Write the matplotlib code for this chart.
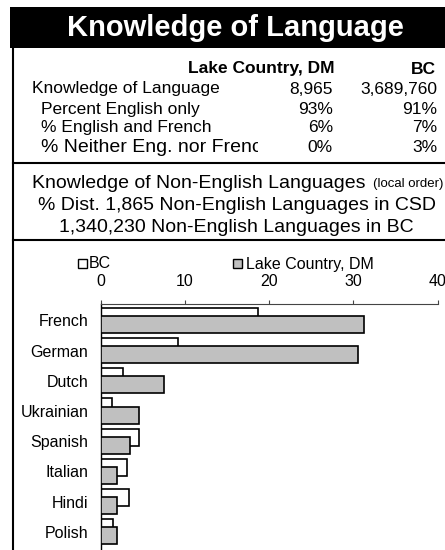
import numpy as np
import matplotlib
matplotlib.use("Agg")
import matplotlib.pyplot as plt
from matplotlib.patches import Rectangle
from matplotlib.lines import Line2D

plt.rcParams["font.family"] = ["Liberation Sans", "DejaVu Sans"]

# ---- data ----
title = "Knowledge of Language"
col_names = ["Lake Country, DM", "BC"]
row_labels = ["Knowledge of Language", "Percent English only",
              "% English and French", "% Neither Eng. nor French"]
lake_vals = ["8,965", "93%", "6%", "0%"]
bc_vals = ["3,689,760", "91%", "7%", "3%"]

languages = ["French", "German", "Dutch", "Ukrainian", "Spanish",
             "Italian", "Hindi", "Polish"]
bc_pct = [18.7, 9.2, 2.6, 1.3, 4.6, 3.1, 3.4, 1.5]
lake_pct = [31.3, 30.5, 7.5, 4.5, 3.5, 1.9, 1.9, 1.9]

W, H = 445, 550
fig = plt.figure(figsize=(W / 100, H / 100), dpi=100)


def fx(px):
    return px / W


def fy(py):
    return 1 - py / H


# ---- title band ----
fig.patches.append(Rectangle((fx(10), fy(48)), fx(W + 10) - fx(10), fy(7) - fy(48),
                             transform=fig.transFigure, facecolor="black",
                             edgecolor="none", zorder=1))
fig.text(fx(235), fy(28), title, color="white", fontsize=21, fontweight="bold",
         ha="center", va="center")

# ---- frame lines ----
lw_frame = 1.5
fig.lines.append(Line2D([fx(13), fx(13)], [fy(47), fy(H)], transform=fig.transFigure,
                        color="black", lw=lw_frame))
for yy in (163, 240):
    fig.lines.append(Line2D([fx(13), fx(W)], [fy(yy), fy(yy)], transform=fig.transFigure,
                            color="black", lw=lw_frame))

# ---- summary table ----
fs_tab = 12.5
fig.text(fx(334), fy(69), col_names[0], fontsize=fs_tab, fontweight="bold",
         ha="right", va="center")
fig.text(fx(436), fy(69), col_names[1], fontsize=fs_tab, fontweight="bold",
         ha="right", va="center")
row_y = [89, 109, 128, 148]
for i, (lab, a, b) in enumerate(zip(row_labels, lake_vals, bc_vals)):
    x0 = 32 if i == 0 else 41
    fs = 14 if i == len(row_labels) - 1 else fs_tab
    fig.text(fx(x0), fy(row_y[i]), lab, fontsize=fs, ha="left", va="center", zorder=3)
    fig.text(fx(333), fy(row_y[i]), a, fontsize=fs_tab, ha="right", va="center", zorder=5)
    fig.text(fx(437), fy(row_y[i]), b, fontsize=fs_tab, ha="right", va="center", zorder=5)

# the last label is cut off by its cell in the original
fig.patches.append(Rectangle((fx(258), fy(160)), fx(38), fy(136) - fy(160),
                             transform=fig.transFigure, facecolor="white",
                             edgecolor="none", zorder=4))

# ---- section heading ----
fs_sec = 14
fig.text(fx(32), fy(183), "Knowledge of Non-English Languages", fontsize=fs_sec,
         ha="left", va="center")
fig.text(fx(443), fy(184), "(local order)", fontsize=9.5, ha="right", va="center")
fig.text(fx(237), fy(205), "% Dist. 1,865 Non-English Languages in CSD", fontsize=fs_sec,
         ha="center", va="center")
fig.text(fx(236), fy(227), "1,340,230 Non-English Languages in BC", fontsize=fs_sec,
         ha="center", va="center")

# ---- legend ----
fs_chart = 11.5
fig.patches.append(Rectangle((fx(78), fy(268)), fx(9), fy(0) - fy(9),
                             transform=fig.transFigure, facecolor="white",
                             edgecolor="black", lw=1.0))
fig.text(fx(89), fy(264), "BC", fontsize=fs_chart, ha="left", va="center")
fig.patches.append(Rectangle((fx(233), fy(268)), fx(9), fy(0) - fy(9),
                             transform=fig.transFigure, facecolor="#c0c0c0",
                             edgecolor="black", lw=1.0))
fig.text(fx(246), fy(264), "Lake Country, DM", fontsize=fs_chart, ha="left", va="center")

# ---- bar chart ----
ax = fig.add_axes([fx(100.7), 0, fx(437.7) - fx(100.7), fy(304)])
y = np.arange(len(languages))
h = 0.56
d = 0.135
ax.barh(y - d, bc_pct, height=h, color="white", edgecolor="black", lw=1.2, zorder=2)
ax.barh(y + d, lake_pct, height=h, color="#c0c0c0", edgecolor="black", lw=1.2, zorder=3)

ax.set_xlim(0, 40)
ax.set_ylim(7.602, -0.544)
ax.set_xticks([0, 10, 20, 30, 40])
ax.set_yticks(y)
ax.set_yticklabels(languages)
ax.xaxis.tick_top()
ax.tick_params(axis="x", direction="out", length=3, width=0.8, color="#444444",
               labelsize=fs_chart, pad=7.5)
ax.tick_params(axis="y", length=0, labelsize=fs_chart, pad=9)
for s in ("right", "bottom"):
    ax.spines[s].set_visible(False)
ax.spines["top"].set_color("#444444")
ax.spines["top"].set_linewidth(0.8)
ax.spines["left"].set_color("black")
ax.spines["left"].set_linewidth(1.0)
ax.patch.set_alpha(0)

fig.savefig("out.png", dpi=100)
